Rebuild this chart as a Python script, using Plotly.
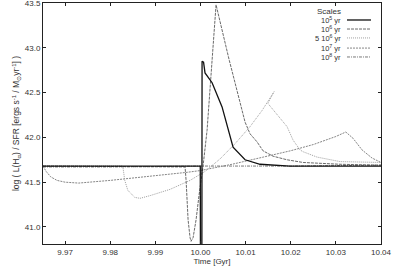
import plotly.graph_objects as go

# ---- data ----
x_1e5 = [9.9651, 9.99995, 10.00000, 10.00030, 10.00035, 10.00068, 10.0010, 10.00257,
         10.00478, 10.00611, 10.00722, 10.00988, 10.0132, 10.0198, 10.0400]
y_1e5 = [41.68, 41.68, 40.30, 40.30, 42.85, 42.84, 42.72, 42.61,
         42.34, 42.08, 41.89, 41.75, 41.70, 41.68, 41.68]

x_1e6 = [9.9651, 9.99658, 9.99681, 9.99725, 9.99769, 9.99791, 9.99836, 9.99902, 9.99969,
         10.00057, 10.00146, 10.00279, 10.00345, 10.00633, 10.00877, 10.00988, 10.01098,
         10.01253, 10.01386, 10.01608, 10.01918, 10.02273, 10.03092, 10.0400]
y_1e6 = [41.68, 41.67, 41.52, 41.08, 40.88, 40.84, 40.88, 41.08, 41.36,
         41.68, 42.08, 42.98, 43.48, 42.87, 42.39, 42.17, 42.04,
         41.95, 41.85, 41.79, 41.75, 41.72, 41.70, 41.69]

x_5e6 = [9.9651, 9.98278, 9.98322, 9.98389, 9.98544, 9.98661, 9.98883, 9.99326, 9.99769,
         10.0010, 10.00434, 10.00766, 10.01098, 10.01364, 10.0163, 10.01492,
         10.01918, 10.02051, 10.02206, 10.02273, 10.02583, 10.03092, 10.0400]
y_5e6 = [41.68, 41.68, 41.52, 41.41, 41.33, 41.32, 41.35, 41.42, 41.52,
         41.62, 41.76, 41.93, 42.12, 42.30, 42.51, 42.38,
         42.12, 41.97, 41.86, 41.84, 41.78, 41.73, 41.72]

x_1e7 = [9.9651, 9.9658, 9.9668, 9.9682, 9.9700, 9.9730, 9.9800, 9.9900, 9.9970, 10.0000,
         10.0070, 10.0139, 10.0199, 10.0250, 10.0300, 10.0322, 10.0338, 10.0358, 10.0380, 10.0400]
y_1e7 = [41.68, 41.62, 41.56, 41.52, 41.50, 41.49, 41.52, 41.57, 41.61, 41.63,
         41.70, 41.78, 41.85, 41.92, 42.01, 42.06, 41.99, 41.86, 41.77, 41.72]

x_1e8 = [9.9651, 9.9800, 10.0000, 10.0200, 10.0400]
y_1e8 = [41.67, 41.67, 41.68, 41.68, 41.69]

labels = ["10<sup>5</sup> yr", "10<sup>6</sup> yr", "5 10<sup>6</sup> yr",
          "10<sup>7</sup> yr", "10<sup>8</sup> yr"]
x_ticks = [9.97, 9.98, 9.99, 10.00, 10.01, 10.02, 10.03, 10.04]
y_ticks = [41.0, 41.5, 42.0, 42.5, 43.0, 43.5]

styles = [
    dict(color="#111111", width=1.3, dash="solid"),
    dict(color="#6a6a6a", width=1, dash="3px,1px"),
    dict(color="#a0a0a0", width=1, dash="1px,1px"),
    dict(color="#858585", width=1, dash="2px,1px"),
    dict(color="#7a7a7a", width=1, dash="3px,1px,1px,1px"),
]

series = [(x_1e5, y_1e5), (x_1e6, y_1e6), (x_5e6, y_5e6), (x_1e7, y_1e7), (x_1e8, y_1e8)]

fig = go.Figure()
for i in [4, 3, 2, 1, 0]:
    xs, ys = series[i]
    fig.add_trace(go.Scatter(x=xs, y=ys, mode="lines", line=styles[i],
                             name=labels[i], showlegend=False, hoverinfo="skip"))

font = dict(family="Liberation Sans, Arial, sans-serif", size=8, color="#333333")

# custom legend (text on the left, sample on the right), paper coordinates
ann = [dict(text="Scales", x=0.887, y=0.966, xref="paper", yref="paper",
            xanchor="right", yanchor="middle", showarrow=False, font=font)]
leg_y = [0.9295, 0.892, 0.855, 0.813, 0.776]
shapes = []
for i, lab in enumerate(labels):
    ann.append(dict(text=lab, x=0.887, y=leg_y[i], xref="paper", yref="paper",
                    xanchor="right", yanchor="middle", showarrow=False,
                    font=dict(family=font["family"], size=7.5, color="#333333")))
    shapes.append(dict(type="line", xref="paper", yref="paper",
                       x0=0.8994, x1=0.9704, y0=leg_y[i], y1=leg_y[i],
                       line=styles[i]))

fig.update_layout(
    width=393, height=273, autosize=False,
    margin=dict(l=43, r=12, t=3, b=29, autoexpand=False),
    paper_bgcolor="white", plot_bgcolor="white",
    font=font,
    annotations=ann, shapes=shapes,
    showlegend=False,
)
fig.update_xaxes(range=[9.9651, 10.04], tickvals=x_ticks,
                 ticktext=[f"{v:.2f}" for v in x_ticks],
                 ticks="inside", ticklen=3, tickcolor="#222",
                 showline=True, linecolor="#222", linewidth=1, mirror="ticks",
                 showgrid=False, zeroline=False, automargin=False,
                 tickfont=font, ticklabeloverflow="allow",
                 title=dict(text="Time [Gyr]", font=font, standoff=2))
fig.update_yaxes(range=[40.81, 43.5], tickvals=y_ticks,
                 ticktext=[f"{v:.1f}" for v in y_ticks],
                 ticks="inside", ticklen=3, tickcolor="#222",
                 showline=True, linecolor="#222", linewidth=1, mirror="ticks",
                 showgrid=False, zeroline=False, automargin=False,
                 tickfont=font, ticklabeloverflow="allow",
                 title=dict(text="log ( L(H<sub>α</sub>) / SFR [ergs s<sup>-1</sup> / M<sub>⊙</sub>yr<sup>-1</sup>] )",
                            font=dict(family=font["family"], size=8.5, color="#333333"),
                            standoff=3))

fig.write_html("out.html", config={"displayModeBar": False},
               post_script="document.body.style.margin='0px';document.body.style.overflow='hidden';")
